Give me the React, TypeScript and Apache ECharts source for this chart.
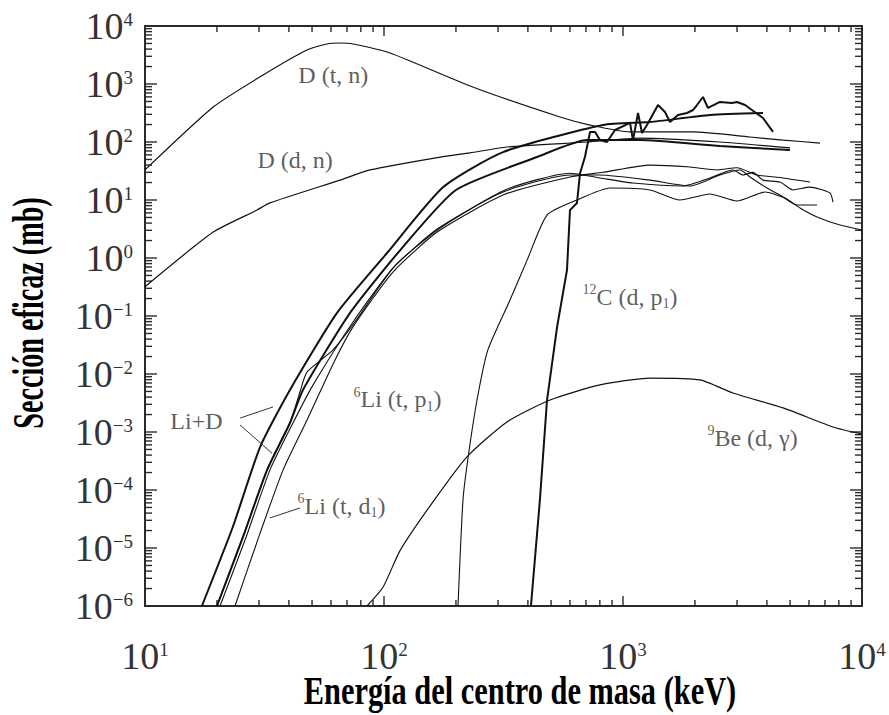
import React, { useEffect, useRef } from "react";
import * as echarts from "echarts";

const X_MIN = 10;
const X_MAX = 10000;
const Y_MIN = 1e-6;
const Y_MAX = 1e4;

// decades (major ticks); minor ticks are 2..9 times each decade
const xDecades = [10, 100, 1000, 10000];
const yDecades = [1e-6, 1e-5, 1e-4, 1e-3, 1e-2, 1e-1, 1, 10, 100, 1000, 10000];

// [energy keV, cross section mb]
const dtn = [[10, 33], [19.3, 401], [31.2, 1429], [47.6, 3855], [57.7, 4900], [65.4, 5090], [74.2, 4900], [106, 3420], [235, 887], [545, 270], [728, 196], [1070, 149], [1963, 149], [3400, 122], [4672, 108], [6672, 96]];
const ddn = [[10, 0.32], [19.3, 2.8], [29.4, 6.7], [33.3, 8.9], [65.4, 22], [87.4, 33], [172, 55], [229, 65], [327, 82], [707, 100], [1178, 117], [2546, 100], [4996, 79]];
const liD1 = [[17.3, 1e-6], [23.3, 2.3e-5], [30.3, 5.5e-4], [40.4, 5.3e-3], [63.6, 0.113], [103, 1.22], [177, 16.7], [315, 67], [825, 196], [1297, 221], [2312, 292], [3853, 316]];
const liD2 = [[20, 1e-6], [25.7, 1.55e-5], [32.4, 2.2e-4], [40.4, 1.43e-3], [45.8, 5.3e-3], [72.1, 0.113], [117, 1.37], [200, 14.9], [437, 55], [707, 108], [1178, 108], [2546, 85], [4996, 73]];
const liD3 = [[20, 1e-6], [25.7, 1.55e-5], [32.4, 2.2e-4], [40.4, 1.43e-3], [44.5, 4.9e-3], [47.6, 0.0108], [61.2, 0.026], [75.6, 0.079], [111, 0.73], [172, 3.3], [321, 14.9], [600, 29], [801, 24], [1101, 19.6], [1782, 17.4], [2312, 24], [2886, 33], [3178, 27], [3499, 30], [3853, 22], [4539, 20.4], [5143, 14.9], [6059, 16.7], [7346, 13.2], [7562, 9.2]];
const liD4 = [[20.6, 1e-6], [26.5, 1.55e-5], [33.3, 2.2e-4], [41.6, 1.43e-3], [50.5, 6.5e-3], [74.2, 0.079], [109, 0.67], [167, 3.16], [315, 13.7], [600, 27], [801, 27], [1297, 22], [1907, 17.4], [2546, 27], [3087, 33], [3400, 25], [4004, 16.1], [4539, 12.2], [5346, 8.2], [6483, 8.2]];
const li6td1 = [[23.8, 1e-6], [30.3, 1.8e-5], [37.8, 2.2e-4], [47.6, 1.6e-3], [62.4, 0.0174], [74.2, 0.065], [109, 0.57], [167, 2.8], [315, 12.2], [600, 25], [825, 30], [1297, 40], [1907, 37], [2474, 33], [2999, 36], [3637, 27], [4672, 24], [6059, 20.4]];
const li6tp1 = [[204, 1e-6], [214, 6.7e-5], [225, 3.7e-4], [245, 3.56e-3], [272, 0.026], [337, 0.19], [397, 0.92], [481, 5.5], [642, 10], [882, 16.1], [1297, 14.9], [1732, 10], [2312, 12.7], [2999, 9.6], [3928, 13.7], [4763, 10.8], [5503, 7.3], [6483, 5.1], [8091, 3.7], [10000, 3.04]];
const c12dp1 = [[412, 1e-6], [449, 6.7e-5], [481, 3.56e-3], [530, 0.065], [583, 0.62], [600, 6.7], [642, 8.9], [661, 29], [693, 55], [728, 149], [764, 149], [801, 108], [857, 100], [926, 161], [1070, 213], [1101, 108], [1156, 316], [1201, 143], [1260, 196], [1401, 434], [1498, 329], [1573, 221], [1699, 292], [1853, 316], [1963, 356], [2040, 434], [2161, 597], [2268, 386], [2546, 490], [2858, 470], [2999, 490], [3240, 434], [3853, 259], [4243, 149]];
const be9dg = [[84.9, 1e-6], [99, 2.1e-6], [117, 9.2e-6], [160, 6.2e-5], [222, 3.7e-4], [327, 1.49e-3], [495, 3.56e-3], [801, 6.5e-3], [1297, 8.5e-3], [2100, 7.9e-3], [2886, 4.7e-3], [4672, 2.6e-3], [7562, 1.22e-3], [10000, 9.2e-4]];

// leader lines of the annotations
const leadLiD1 = [[25.0, 1.74e-3], [34.3, 2.7e-3]];
const leadLiD2 = [[25.0, 1.32e-3], [34.0, 4.3e-4]];
const leadTd1 = [[44.5, 4.9e-5], [33.3, 3.3e-5]];

// annotation texts and their anchors (left, middle)
const labelTexts = [
  "{t|D (t, n)}",
  "{t|D (d, n)}",
  "{t|Li+D}",
  "{s|6}{t|Li (t, p}{u|1}{t|)}",
  "{s|6}{t|Li (t, d}{u|1}{t|)}",
  "{s|12}{t|C (d, p}{u|1}{t|)}",
  "{s|9}{t|Be (d, γ)}",
];
const labelE = [43.6, 29.4, 12.7, 74.2, 43.3, 673, 2245];
const labelS = [1430, 49, 1.55e-3, 3.7e-3, 5.3e-5, 0.213, 7.9e-4];

const INK = "#111";
const AXIS = "#2a2a2a";
const SERIF = "Liberation Serif";

function titleGraphics() {
  return [
    {
      type: "text",
      id: "xtitle",
      x: 520,
      y: 690,
      scaleX: 0.76,
      style: {
        text: "Energía del centro de masa (keV)",
        fontFamily: SERIF,
        fontWeight: "bold",
        fontSize: 40,
        fill: "#000",
        align: "center",
        verticalAlign: "middle",
      },
    },
    {
      type: "text",
      id: "ytitle",
      x: 28,
      y: 313,
      rotation: Math.PI / 2,
      scaleX: 0.64,
      style: {
        text: "Sección eficaz (mb)",
        fontFamily: SERIF,
        fontWeight: "bold",
        fontSize: 44,
        fill: "#000",
        align: "center",
        verticalAlign: "middle",
      },
    },
  ];
}

function buildOption() {
  const fmt = (v: number) => {
    const e = Math.round(Math.log10(v));
    return `{b|10}{e|${e < 0 ? "\u2212" + -e : e}}`;
  };
  const tickRich = {
    b: { fontFamily: SERIF, fontSize: 38, color: "#333", lineHeight: 32 },
    e: { fontFamily: SERIF, fontSize: 19, color: "#333", lineHeight: 19, verticalAlign: "top" },
  };

  const axisCommon = {
    type: "log",
    logBase: 10,
    splitLine: { show: false },
    axisLine: { show: true, onZero: false, lineStyle: { color: AXIS, width: 2 } },
    axisTick: { show: false },
  };

  const line = (data: number[][], width: number, smooth = 0.2) => ({
    type: "line",
    data,
    showSymbol: false,
    symbol: "none",
    smooth,
    silent: true,
    lineStyle: { color: INK, width },
    z: 3,
  });

  const lead = (data: number[][]) => ({
    type: "line",
    data,
    showSymbol: false,
    symbol: "none",
    silent: true,
    lineStyle: { color: "#333", width: 1 },
    z: 3,
  });

  return {
    animation: false,
    backgroundColor: "#fff",
    grid: { left: 145, right: 27, top: 26, bottom: 109, containLabel: false },
    xAxis: [
      { ...axisCommon, min: X_MIN, max: X_MAX, interval: 1, position: "bottom",
        axisLabel: { show: true, margin: 34, formatter: fmt, rich: tickRich } },
      { ...axisCommon, min: X_MIN, max: X_MAX, interval: 1, position: "top", axisLabel: { show: false } },
    ],
    yAxis: [
      { ...axisCommon, min: Y_MIN, max: Y_MAX, interval: 1, position: "left",
        axisLabel: { show: true, margin: 12, formatter: fmt, rich: tickRich } },
      { ...axisCommon, min: Y_MIN, max: Y_MAX, interval: 1, position: "right", axisLabel: { show: false } },
    ],
    series: [
      line(dtn, 1.2),
      line(ddn, 1.2),
      line(liD1, 2.0),
      line(liD2, 2.0),
      line(liD3, 1.1),
      line(liD4, 1.1),
      line(li6td1, 1.1),
      line(li6tp1, 1.1),
      line(c12dp1, 2.0, 0),
      line(be9dg, 1.2),
      lead(leadLiD1),
      lead(leadLiD2),
      lead(leadTd1),
      {
        type: "scatter",
        silent: true,
        symbolSize: 1,
        itemStyle: { color: "rgba(0,0,0,0)" },
        data: labelE.map((e, i) => ({ value: [e, labelS[i]], label: { formatter: labelTexts[i] } })),
        label: {
          show: true,
          position: "right",
          distance: 0,
          rich: {
            t: { fontFamily: SERIF, fontSize: 24, color: "#333", lineHeight: 28 },
            s: { fontFamily: SERIF, fontSize: 14, color: "#333", lineHeight: 14, verticalAlign: "top" },
            u: { fontFamily: SERIF, fontSize: 14, color: "#333", lineHeight: 14, verticalAlign: "bottom" },
          },
        },
        z: 4,
      },
    ],
  };
}

// tick marks on the four sides, placed through the chart's own scales
function buildTicks(chart: any) {
  const px = (x: number, y: number): number[] =>
    chart.convertToPixel({ xAxisIndex: 0, yAxisIndex: 0 }, [x, y]);
  const xTicks: any[] = [];
  xDecades.forEach((d) => {
    xTicks.push([d, true]);
    if (d < X_MAX) for (let k = 2; k <= 9; k++) xTicks.push([k * d, false]);
  });
  const yTicks: any[] = [];
  yDecades.forEach((d) => {
    yTicks.push([d, true]);
    if (d < Y_MAX) for (let k = 2; k <= 9; k++) yTicks.push([k * d, false]);
  });
  const out: any[] = [];
  let n = 0;
  const seg = (x1: number, y1: number, x2: number, y2: number) => {
    out.push({
      type: "line",
      id: "tk" + n++,
      shape: { x1, y1, x2, y2 },
      style: { stroke: AXIS, lineWidth: 1.4 },
    });
  };
  xTicks.forEach((tk) => {
    const v = tk[0];
    const L = tk[1] ? 10 : 6;
    const b = px(v, Y_MIN);
    const t = px(v, Y_MAX);
    seg(b[0], b[1], b[0], b[1] - L);
    seg(t[0], t[1], t[0], t[1] + L);
  });
  yTicks.forEach((tk) => {
    const v = tk[0];
    const L = tk[1] ? 12 : 7;
    const l = px(X_MIN, v);
    const r = px(X_MAX, v);
    seg(l[0], l[1], l[0] + L, l[1]);
    seg(r[0], r[1], r[0] - L, r[1]);
  });
  return out;
}

export default function App() {
  const ref = useRef<HTMLDivElement>(null);
  useEffect(() => {
    if (!ref.current) return;
    const chart = echarts.init(ref.current, undefined, { renderer: "svg" });
    chart.setOption(buildOption() as any);
    let ticks: any[] = [];
    try {
      ticks = buildTicks(chart);
    } catch (e) {
      ticks = [];
    }
    // ticks first, the two titles last
    chart.setOption({ graphic: [...ticks, ...titleGraphics()] } as any);
    return () => chart.dispose();
  }, []);
  return (
    <div
      ref={ref}
      style={{ position: "fixed", left: 0, top: 0, width: 889, height: 715, background: "#fff" }}
    />
  );
}
